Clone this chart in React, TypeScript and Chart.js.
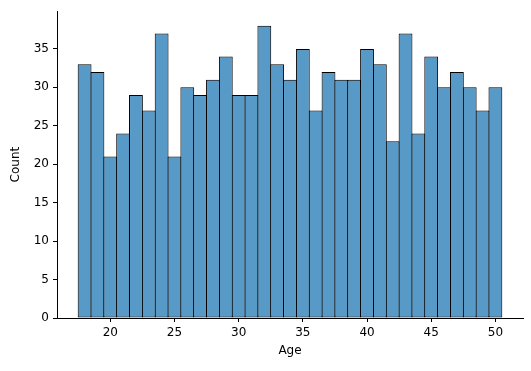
import { useEffect, useRef } from "react";
import { Chart, registerables } from "chart.js";

Chart.register(...registerables);

const ages = [18, 19, 20, 21, 22, 23, 24, 25, 26, 27, 28, 29, 30, 31, 32, 33, 34, 35, 36, 37, 38, 39, 40, 41, 42, 43, 44, 45, 46, 47, 48, 49, 50];
const counts = [33, 32, 21, 24, 29, 27, 37, 21, 30, 29, 31, 34, 29, 29, 38, 33, 31, 35, 27, 32, 31, 31, 35, 33, 23, 37, 24, 34, 30, 32, 30, 27, 30];
const xTicks = [20, 25, 30, 35, 40, 45, 50];
const yTicks = [0, 5, 10, 15, 20, 25, 30, 35];
const xLabel = "Age";
const yLabel = "Count";

export default function App() {
  const ref = useRef<HTMLCanvasElement | null>(null);

  useEffect(() => {
    document.body.style.margin = "0";
    const canvas = ref.current;
    if (!canvas) return;
    const lo = ages[0] - 0.5;
    const hi = ages[ages.length - 1] + 0.5;
    const span = hi - lo;
    const xMin = lo - span * 0.05;
    const xMax = hi + span * 0.05;
    const yMax = Math.max(...counts) * 1.05;
    const font = { family: "DejaVu Sans", size: 12 };
    const chart = new Chart(canvas, {
      type: "bar",
      data: {
        datasets: [
          {
            data: ages.map((a, i) => ({ x: a, y: counts[i] })),
            backgroundColor: "rgba(31,119,180,0.75)",
            borderColor: "#000",
            borderWidth: 1,
            borderSkipped: false,
            barPercentage: 1.078,
            categoryPercentage: 1,
          },
        ],
      },
      options: {
        animation: false,
        responsive: false,
        maintainAspectRatio: false,
        layout: { padding: { left: 0, top: 10, right: 8, bottom: 0 } },
        plugins: { legend: { display: false }, tooltip: { enabled: false } },
        scales: {
          x: {
            type: "linear",
            min: xMin,
            max: xMax,
            offset: false,
            afterBuildTicks: (s: any) => {
              s.ticks = xTicks.map((v) => ({ value: v }));
            },
            afterFit: (s: any) => {
              s.height = 53;
            },
            grid: {
              display: true,
              offset: false,
              drawOnChartArea: false,
              drawTicks: true,
              tickLength: 4,
              color: "#000",
              tickColor: "#000",
            },
            border: { display: true, color: "#000", width: 1 },
            ticks: {
              color: "#000",
              font,
              padding: 4,
              maxRotation: 0,
              autoSkip: false,
              callback: (v: any) => String(v),
            },
            title: {
              display: true,
              text: xLabel,
              color: "#000",
              font,
              padding: { top: 0, bottom: 13 },
            },
          },
          y: {
            type: "linear",
            min: 0,
            max: yMax,
            afterBuildTicks: (s: any) => {
              s.ticks = yTicks.map((v) => ({ value: v }));
            },
            afterFit: (s: any) => {
              s.width = 57;
            },
            grid: {
              display: true,
              drawOnChartArea: false,
              drawTicks: true,
              tickLength: 4,
              color: "#000",
              tickColor: "#000",
            },
            border: { display: true, color: "#000", width: 1 },
            ticks: {
              color: "#000",
              font,
              padding: 4,
              autoSkip: false,
              callback: (v: any) => String(v),
            },
            title: {
              display: true,
              text: yLabel,
              color: "#000",
              font,
              padding: { top: 9, bottom: 0 },
            },
          },
        },
      },
    });
    return () => chart.destroy();
  }, []);

  return (
    <div style={{ position: "fixed", left: 0, top: 0, width: 531, height: 371 }}>
      <canvas ref={ref} width={531} height={371} />
    </div>
  );
}
